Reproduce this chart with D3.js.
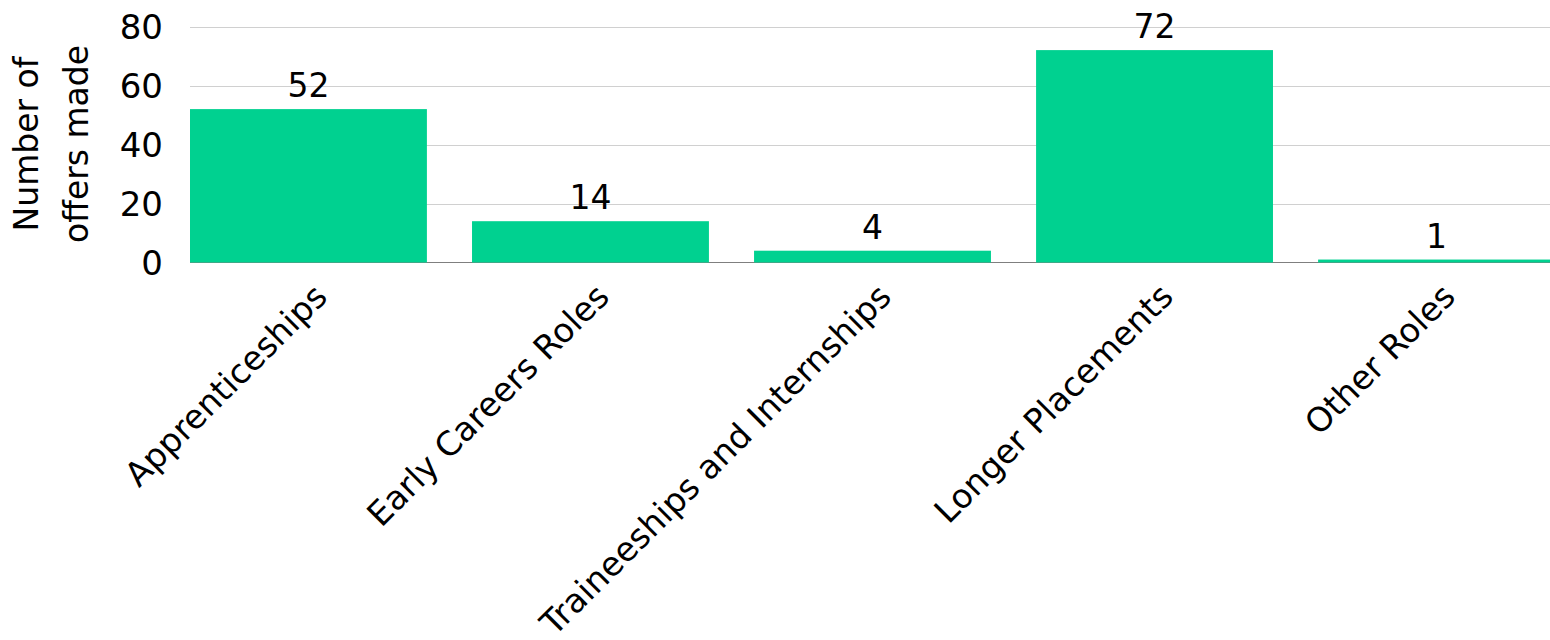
<!DOCTYPE html>
<html>
<head>
<meta charset="utf-8">
<script src="https://cdn.jsdelivr.net/npm/d3@7"></script>
<style>
  body { margin: 0; background: #fff; overflow: hidden; }
  text { font-family: "DejaVu Sans", Verdana, sans-serif; fill: #000; }
</style>
</head>
<body>
<div id="chart"></div>
<script>
var categories = ['Apprenticeships', 'Early Careers Roles', 'Traineeships and Internships', 'Longer Placements', 'Other Roles']
var offers = [52, 14, 4, 72, 1]
var yTicks = [0, 20, 40, 60, 80]

var W = 1550, H = 640
var svg = d3.select('#chart').append('svg')
  .attr('width', W)
  .attr('height', H)

var x = d3.scaleBand()
  .domain(categories)
  .range([190, 1555])
  .paddingInner(0.16)
  .paddingOuter(0)

var y = d3.scaleLinear()
  .domain([0, 80])
  .range([262.5, 26.5])

// gridlines
svg.append('g')
  .selectAll('line')
  .data(yTicks.filter(function(d) { return d > 0 }))
  .enter().append('line')
  .attr('x1', 190)
  .attr('x2', 1555)
  .attr('y1', function(d) { return Math.round(y(d)) + 0.5 })
  .attr('y2', function(d) { return Math.round(y(d)) + 0.5 })
  .attr('stroke', '#d0d0d0')
  .attr('stroke-width', 1.2)

// y tick labels
svg.append('g')
  .selectAll('text')
  .data(yTicks)
  .enter().append('text')
  .attr('x', 163)
  .attr('y', function(d) { return y(d) })
  .attr('dy', '0.36em')
  .attr('text-anchor', 'end')
  .style('font-size', '34px')
  .text(function(d) { return d })

// baseline
svg.append('line')
  .attr('x1', 190)
  .attr('x2', 1555)
  .attr('y1', y(0))
  .attr('y2', y(0))
  .attr('stroke', '#7f7f7f')
  .attr('stroke-width', 1)

// bars
svg.append('g')
  .selectAll('rect')
  .data(offers)
  .enter().append('rect')
  .attr('x', function(d, i) { return x(categories[i]) })
  .attr('width', x.bandwidth())
  .attr('y', function(d) { return y(d) })
  .attr('height', function(d) { return y(0) - y(d) })
  .attr('fill', '#00d190')

// value labels
svg.append('g')
  .selectAll('text')
  .data(offers)
  .enter().append('text')
  .attr('x', function(d, i) { return x(categories[i]) + x.bandwidth() / 2 })
  .attr('y', function(d) { return y(d) - 12 })
  .attr('text-anchor', 'middle')
  .style('font-size', '33px')
  .text(function(d) { return d })

// category labels
svg.append('g')
  .selectAll('text')
  .data(categories)
  .enter().append('text')
  .attr('text-anchor', 'end')
  .attr('transform', function(d) {
    var cx = x(d) + x.bandwidth() / 2 + 12
    return 'translate(' + cx + ',' + 290 + ') rotate(-45)'
  })
  .attr('dy', '0.36em')
  .style('font-size', '33.5px')
  .text(function(d) { return d })

// y axis title
var yt = svg.append('text')
  .attr('transform', 'translate(38,' + 144 + ') rotate(-90)')
  .attr('text-anchor', 'middle')
  .style('font-size', '33px')
yt.append('tspan').attr('x', 0).attr('dy', 0).text('Number of')
yt.append('tspan').attr('x', 0).attr('dy', '1.52em').text('offers made')
</script>
</body>
</html>
